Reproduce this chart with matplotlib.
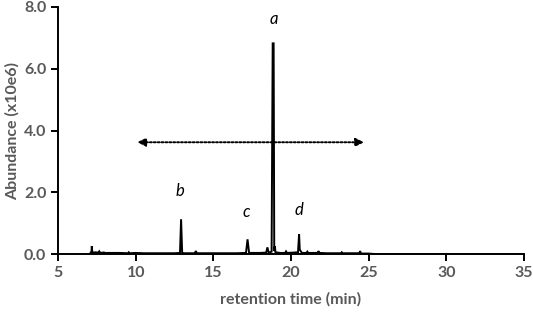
import matplotlib
matplotlib.use("Agg")
from matplotlib import pyplot as plt

# chromatogram trace (retention time in min, abundance in x10e6)
rt = [7.10, 7.15, 7.17, 7.20, 7.25, 7.40, 7.60, 7.65, 7.70, 7.90, 7.93, 7.97, 8.20,
      8.50, 9.00, 9.50, 9.55, 9.60, 10.0, 10.5, 11.0, 11.5, 12.0, 12.5, 12.85,
      12.92, 12.99, 13.10, 13.80, 13.87, 13.94, 14.5, 15.5, 16.5, 17.10, 17.20,
      17.30, 17.6, 18.0, 18.40, 18.48, 18.56, 18.75, 18.82, 18.88, 18.92, 18.96,
      19.0, 19.3, 19.62, 19.68, 19.74, 20.1, 20.45, 20.52, 20.56, 20.62, 20.7,
      21.0, 21.05, 21.1, 21.5, 21.72, 21.77, 21.82, 22.3, 23.22, 23.27, 23.32,
      24.40, 24.45, 24.50, 25.0, 25.5, 27.0, 30.0, 33.0, 35.0]
abundance = [0.05, 0.06, 0.26, 0.08, 0.05, 0.06, 0.05, 0.09, 0.05, 0.04, 0.07, 0.04, 0.04,
             0.04, 0.04, 0.03, 0.06, 0.03, 0.04, 0.03, 0.03, 0.03, 0.03, 0.03, 0.04,
             1.13, 0.04, 0.03, 0.03, 0.10, 0.03, 0.03, 0.03, 0.03, 0.04, 0.48,
             0.04, 0.04, 0.04, 0.05, 0.22, 0.05, 0.08, 6.82, 6.82, 0.10, 0.25,
             0.06, 0.04, 0.04, 0.09, 0.04, 0.05, 0.06, 0.65, 0.15, 0.10, 0.04,
             0.04, 0.08, 0.04, 0.04, 0.04, 0.10, 0.04, 0.03, 0.03, 0.06, 0.03,
             0.03, 0.10, 0.02, 0.02, 0.0, 0.0, 0.0, 0.0, 0.0]

peak_labels = ["a", "b", "c", "d"]
label_x = [18.9, 12.85, 17.1, 20.5]
label_y = [7.6, 2.05, 1.38, 1.42]

arrow_x = [10.1, 24.7]
arrow_y = 3.62

grey = "#595959"
plt.rcParams["font.family"] = ["Lato", "DejaVu Sans"]

fig = plt.figure(figsize=(5.33, 3.13), dpi=100)
ax = fig.add_axes([0.109, 0.188, 0.874, 0.79])

ax.plot(rt, abundance, color="black", lw=1.4, solid_joinstyle="miter")

ax.annotate("", xy=(arrow_x[0], arrow_y), xytext=(arrow_x[1], arrow_y),
            arrowprops=dict(arrowstyle="<|-|>", linestyle=(0, (1, 1)), lw=1.4,
                            color="black", mutation_scale=12, shrinkA=0, shrinkB=0))

for lab, x, y in zip(peak_labels, label_x, label_y):
    ax.text(x, y, lab, ha="center", va="center", style="italic", fontsize=12)

ax.set_xlim(5, 35)
ax.set_ylim(0, 8)
ax.set_xticks(range(5, 36, 5))
ax.set_yticks([0, 2, 4, 6, 8])
ax.set_yticklabels(["0.0", "2.0", "4.0", "6.0", "8.0"])

for s in ["top", "right"]:
    ax.spines[s].set_visible(False)
for s in ["left", "bottom"]:
    ax.spines[s].set_linewidth(1.4)
ax.tick_params(direction="out", length=5, width=1.4, colors="black",
               labelcolor=grey, labelsize=11.5)
for lbl in ax.get_xticklabels() + ax.get_yticklabels():
    lbl.set_fontweight("bold")

ax.set_xlabel("retention time (min)", fontsize=11.5, fontweight="bold", color=grey, labelpad=9)
ax.set_ylabel("Abundance (x10e6)", fontsize=11.5, fontweight="bold", color=grey, labelpad=3)

fig.savefig("out.png", dpi=100)
